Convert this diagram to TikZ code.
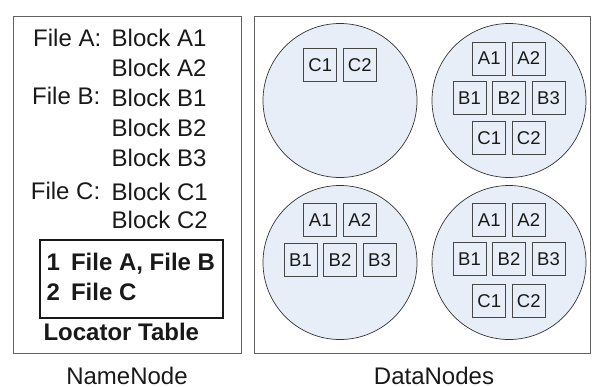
\documentclass[tikz,border=0pt]{standalone}
\usepackage{fontspec}
\setmainfont{Liberation Sans}
\definecolor{dnfill}{RGB}{232,238,247}
\definecolor{ink}{RGB}{25,25,25}
\begin{document}
\begin{tikzpicture}[x=1pt,y=-1pt,
  frame/.style={draw=black!62, line width=0.9pt, inner sep=0pt, anchor=north west},
  dnode/.style={circle, draw=black!80, line width=0.7pt, fill=dnfill, minimum size=154pt, inner sep=0pt},
  blk/.style={draw=black!72, line width=0.7pt, fill=dnfill, minimum size=33pt, inner sep=0pt,
    text=ink, font=\fontsize{18.5}{20}\selectfont},
  txt/.style={anchor=base west, inner sep=0pt, text=ink, font=\fontsize{24}{28}\selectfont},
  btxt/.style={txt, font=\fontsize{24}{28}\selectfont\bfseries},
  caption/.style={anchor=base, inner sep=0pt, text=ink, font=\fontsize{24}{28}\selectfont}]
\useasboundingbox (0,0) rectangle (592,386);

% NameNode panel
\node[frame, minimum width=228pt, minimum height=337pt] (nn) at (13,15.5) {};
\node[txt] (fa) at (33,46.7) {File A:};
\node[txt] (ba1) at (111.5,46.7) {Block A1};
\node[txt] (ba2) at (111.5,76) {Block A2};
\node[txt] (fb) at (32,104.5) {File B:};
\node[txt] (bb1) at (111.5,106.5) {Block B1};
\node[txt] (bb2) at (111.5,136.5) {Block B2};
\node[txt] (bb3) at (111.5,166.5) {Block B3};
\node[txt] (fc) at (30.7,199.5) {File C:};
\node[txt] (bc1) at (111.5,200) {Block C1};
\node[txt] (bc2) at (111.5,228.5) {Block C2};

% locator table
\node[draw=ink, line width=2.4pt, minimum width=183pt, minimum height=78pt,
      inner sep=0pt, anchor=north west] (loc) at (39,239) {};
\node[btxt] (l1) at (46.5,270.7) {1\hspace{11pt}File A, File B};
\node[btxt] (l2) at (46.5,300) {2\hspace{11pt}File C};
\node[btxt] (lt) at (43.3,340) {Locator Table};

% DataNodes panel
\node[frame, minimum width=336pt, minimum height=337pt] (dn) at (254,15.5) {};

\node[dnode] (tl) at (340,100.5) {};
\node[dnode] (tr) at (509,100.5) {};
\node[dnode] (bl) at (340,262.5) {};
\node[dnode] (br) at (509,262.5) {};

% top-left data node
\node[blk] (tl-c1) at ([shift={(-19.75,-35.5)}]tl.center) {C1};
\node[blk] (tl-c2) at ([shift={(19.75,-35.5)}]tl.center) {C2};

% top-right data node
\node[blk] (tr-a1) at ([shift={(-19.75,-42)}]tr.center) {A1};
\node[blk] (tr-a2) at ([shift={(19.75,-42)}]tr.center) {A2};
\node[blk] (tr-b1) at ([shift={(-39.5,-2.5)}]tr.center) {B1};
\node[blk] (tr-b2) at ([shift={(0,-2.5)}]tr.center) {B2};
\node[blk] (tr-b3) at ([shift={(39.5,-2.5)}]tr.center) {B3};
\node[blk] (tr-c1) at ([shift={(-19.75,37.5)}]tr.center) {C1};
\node[blk] (tr-c2) at ([shift={(19.75,37.5)}]tr.center) {C2};

% bottom-left data node
\node[blk] (bl-a1) at ([shift={(-19.75,-42.5)}]bl.center) {A1};
\node[blk] (bl-a2) at ([shift={(19.75,-42.5)}]bl.center) {A2};
\node[blk] (bl-b1) at ([shift={(-39.5,-2.5)}]bl.center) {B1};
\node[blk] (bl-b2) at ([shift={(0,-2.5)}]bl.center) {B2};
\node[blk] (bl-b3) at ([shift={(39.5,-2.5)}]bl.center) {B3};

% bottom-right data node
\node[blk] (br-a1) at ([shift={(-19.75,-42.5)}]br.center) {A1};
\node[blk] (br-a2) at ([shift={(19.75,-42.5)}]br.center) {A2};
\node[blk] (br-b1) at ([shift={(-39.5,-3.5)}]br.center) {B1};
\node[blk] (br-b2) at ([shift={(0,-3.5)}]br.center) {B2};
\node[blk] (br-b3) at ([shift={(39.5,-3.5)}]br.center) {B3};
\node[blk] (br-c1) at ([shift={(-19.75,38.5)}]br.center) {C1};
\node[blk] (br-c2) at ([shift={(19.75,38.5)}]br.center) {C2};

% captions
\node[caption] (nncap) at (127,384.5) {NameNode};
\node[caption] (dncap) at (434,384.5) {DataNodes};
\end{tikzpicture}
\end{document}
